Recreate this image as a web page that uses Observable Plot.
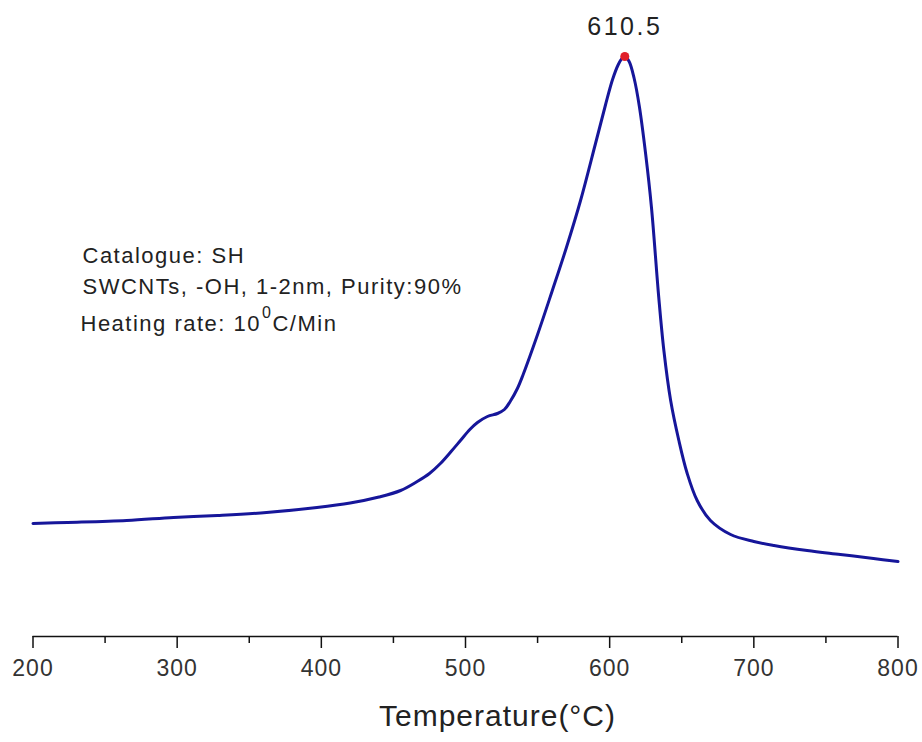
<!DOCTYPE html>
<html>
<head>
<meta charset="utf-8">
<script src="https://cdn.jsdelivr.net/npm/d3@7"></script>
<script src="https://cdn.jsdelivr.net/npm/@observablehq/plot@0.6"></script>
<style>
  html, body { margin: 0; padding: 0; background: #fff; }
  svg { display: block; }
</style>
</head>
<body>
<div id="chart"></div>
<script>
// Temperature (°C)
const temps = [200, 224, 265, 297.5, 328, 362, 397, 420, 440, 455, 466.5, 475, 482.6, 490, 496.5, 503, 508.3, 515.2, 522.2, 527, 531, 536, 540, 550, 560, 570, 580, 590, 597, 602, 606, 608.5, 610.5, 613.5, 617, 620.6, 625, 629, 634, 637.6, 642.3, 648, 653.8, 660.7, 669.9, 683.9, 700, 714, 737, 760, 783, 800];
// Signal (arbitrary units)
const signal = [113, 114, 116, 119, 121, 124, 129, 133.5, 139.5, 146, 155, 163, 173, 185, 196, 207, 214, 220, 223, 227, 235, 248, 262, 302, 345, 389, 437, 492, 531, 557, 572, 578, 580, 575, 558, 530, 482, 429, 340, 286, 236, 196, 163, 136, 116, 102, 95, 91, 86, 82, 78, 75];
const majorTicks = [200, 300, 400, 500, 600, 700, 800];
const minorTicks = [250, 350, 450, 550, 650, 750];
const peak = {t: 610.5, v: 580, label: "610.5"};
const xLabel = "Temperature(°C)";
const notes = ["Catalogue: SH", "SWCNTs, -OH, 1-2nm, Purity:90%", "Heating rate: 10"];

const data = temps.map((t, i) => ({t, v: signal[i]}));
const font = "'Liberation Sans', Arial, sans-serif";

const chart = Plot.plot({
  width: 922,
  height: 742,
  marginLeft: 32.5,
  marginRight: 24.5,
  marginTop: 36,
  marginBottom: 106,
  style: {fontFamily: font, background: "#fff", color: "#222"},
  x: {domain: [200, 800]},
  y: {domain: [0, 600], axis: null},
  marks: [
    Plot.ruleY([0], {x1: 200, x2: 800, stroke: "#111", strokeWidth: 1.5}),
    Plot.axisX({ticks: majorTicks, tickSize: 12, tickPadding: 11, tickFormat: d => String(d), fontSize: 23, stroke: "#111", strokeWidth: 1.5, fill: "#333", label: null, className: "ticklab"}),
    Plot.axisX({ticks: minorTicks, tickSize: 7, tickFormat: () => "", stroke: "#111", strokeWidth: 1.5, label: null}),
    Plot.text([xLabel], {frameAnchor: "bottom", dx: 32, dy: 80, fontSize: 30, fill: "#222", lineAnchor: "middle", className: "xtitle"}),
    Plot.line(data, {x: "t", y: "v", stroke: "#16169a", strokeWidth: 3, curve: "catmull-rom"}),
    Plot.dot([peak], {x: "t", y: "v", r: 4.5, fill: "#e0202a", stroke: "none"}),
    Plot.text([peak], {x: "t", y: "v", text: "label", dy: -30, fontSize: 25, fill: "#222", className: "peaklab"}),
    Plot.text([notes[0]], {frameAnchor: "top-left", dx: 49.5, dy: 226, textAnchor: "start", lineAnchor: "bottom", fontSize: 22, fill: "#222", className: "note"}),
    Plot.text([notes[1]], {frameAnchor: "top-left", dx: 49.5, dy: 257, textAnchor: "start", lineAnchor: "bottom", fontSize: 22, fill: "#222", className: "note"}),
    Plot.text([notes[2]], {frameAnchor: "top-left", dx: 47.5, dy: 294, textAnchor: "start", lineAnchor: "bottom", fontSize: 22, fill: "#222", className: "heat"})
  ]
});

const spacing = [[".note text", "1.5px"], [".heat text", "1.5px"], [".ticklab text", "1px"], [".xtitle text", "1px"], [".peaklab text", "2.5px"]];
for (const [sel, ls] of spacing) chart.querySelectorAll(sel).forEach(t => t.setAttribute("letter-spacing", ls));

// superscript "0" and rest of the heating-rate note
const heat = chart.querySelector(".heat text");
if (heat) {
  const ns = "http://www.w3.org/2000/svg";
  const sup = document.createElementNS(ns, "tspan");
  sup.setAttribute("dy", "-13");
  sup.setAttribute("dx", "1");
  sup.setAttribute("font-size", "16");
  sup.textContent = "0";
  const rest = document.createElementNS(ns, "tspan");
  rest.setAttribute("dy", "13");
  rest.textContent = "C/Min";
  heat.appendChild(sup);
  heat.appendChild(rest);
}
document.getElementById("chart").appendChild(chart);
</script>
</body>
</html>
